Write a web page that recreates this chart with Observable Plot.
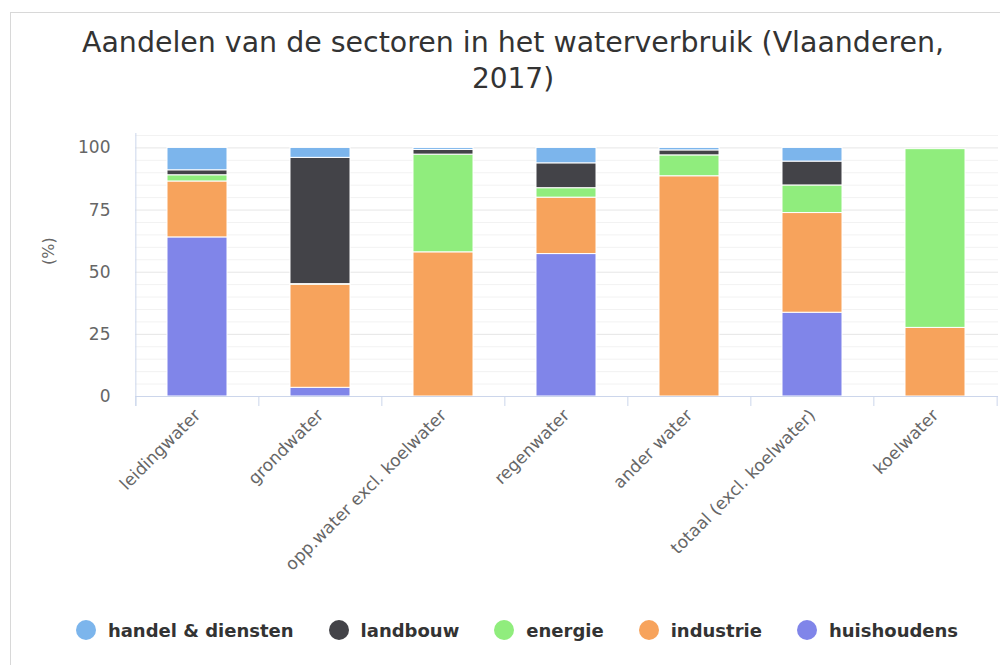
<!DOCTYPE html>
<html>
<head>
<meta charset="utf-8">
<script src="https://cdn.jsdelivr.net/npm/d3@7"></script>
<script src="https://cdn.jsdelivr.net/npm/@observablehq/plot@0.6"></script>
<style>
  html, body { margin: 0; padding: 0; background: #fff; }
  #root { position: relative; width: 1000px; height: 665px; overflow: hidden; background: #fff; }
  #frame { position: absolute; left: 10px; top: 12px; width: 1100px; height: 700px;
           border-left: 1px solid #d8d8d8; border-top: 1px solid #d8d8d8; }
  #title { position: absolute; left: 0; top: 0; }
  #chart { position: absolute; left: 0; top: 120px; }
  #legend { position: absolute; left: 10px; top: 618px; width: 1014px; height: 24px;
            display: flex; justify-content: center; align-items: center; gap: 35px;
            font-family: "DejaVu Sans", sans-serif; font-weight: bold; font-size: 18px; color: #333; }
  .item { display: flex; align-items: center; gap: 12px; white-space: nowrap; }
  .dot { width: 20px; height: 20px; border-radius: 50%; display: inline-block; }
</style>
</head>
<body>
<div id="root">
  <div id="frame"></div>
  <svg id="title" width="1000" height="110"></svg>
  <div id="chart"></div>
  <div id="legend"></div>
</div>
<script>
// ---- data ----
const titleLines = ["Aandelen van de sectoren in het waterverbruik (Vlaanderen,", "2017)"];
const yLabel = "(%)";
const categories = ["leidingwater", "grondwater", "opp.water excl. koelwater", "regenwater", "ander water", "totaal (excl. koelwater)", "koelwater"];
const sectors = ["handel & diensten", "landbouw", "energie", "industrie", "huishoudens"]; // legend order
const colors = ["#7cb5ec", "#434348", "#90ed7d", "#f7a35c", "#8085e9"];
const stackOrder = ["huishoudens", "industrie", "energie", "landbouw", "handel & diensten"]; // bottom to top

const huishoudens = [64, 3.5, 0, 57.3, 0, 33.7, 0];
const industrie   = [22.5, 41.5, 58, 22.7, 88.6, 40.1, 27.6];
const energie     = [2.5, 0.2, 39.3, 3.8, 8.4, 11.1, 71.9];
const landbouw    = [2, 50.8, 1.9, 10, 2, 9.6, 0];
const handel      = [9, 4, 0.8, 6.2, 1, 5.5, 0];

const yTicks = [0, 25, 50, 75, 100];
const yMinorTicks = [5, 10, 15, 20, 30, 35, 40, 45, 55, 60, 65, 70, 80, 85, 90, 95, 105];
const yDomain = [0, 105.8];

// ---- build table ----
const seriesBySector = {
  "huishoudens": huishoudens,
  "industrie": industrie,
  "energie": energie,
  "landbouw": landbouw,
  "handel & diensten": handel
};
const rows = [];
for (const s of stackOrder) {
  categories.forEach((c, i) => {
    const v = seriesBySector[s][i];
    if (v > 0) rows.push({category: c, sector: s, value: v});
  });
}

// ---- title ----
const tsvg = d3.select("#title");
tsvg.append("text").attr("x", 513).attr("y", 52).attr("text-anchor", "middle")
  .attr("font-family", "DejaVu Sans").attr("font-size", 28).attr("fill", "#333")
  .attr("textLength", 862).attr("lengthAdjust", "spacingAndGlyphs")
  .text(titleLines[0]);
tsvg.append("text").attr("x", 513).attr("y", 88).attr("text-anchor", "middle")
  .attr("font-family", "DejaVu Sans").attr("font-size", 28).attr("fill", "#333")
  .text(titleLines[1]);

// ---- chart ----
const width = 1000, marginLeft = 135, marginRight = 2;
const step = (width - marginLeft - marginRight) / categories.length;
const axisColor = "#ccd6eb";

const chart = Plot.plot({
  width, height: 476,
  marginLeft, marginRight, marginTop: 13, marginBottom: 200,
  style: {fontFamily: "DejaVu Sans", fontSize: "16px", color: "#666", background: "transparent"},
  x: {domain: categories, paddingInner: 0.51, paddingOuter: 0.255, label: null},
  y: {domain: yDomain, label: null},
  color: {domain: sectors, range: colors},
  marks: [
    Plot.ruleY(yMinorTicks, {stroke: "#f2f2f2"}),
    Plot.ruleY(yTicks.filter(d => d > 0), {stroke: "#e6e6e6"}),
    Plot.barY(rows, {x: "category", y: "value", fill: "sector", order: stackOrder, stroke: "white", strokeWidth: 1}),
    Plot.ruleY([0], {stroke: axisColor}),
    Plot.ruleX(categories, {x: d => d, dx: -step / 2, y1: 0, y2: 0, insetBottom: -10, stroke: axisColor}),
    Plot.ruleX(categories.slice(-1), {x: d => d, dx: step / 2, y1: 0, y2: 0, insetBottom: -10, stroke: axisColor}),
    Plot.ruleX(categories.slice(0, 1), {x: d => d, dx: -step / 2, insetBottom: -10, stroke: axisColor}),
    Plot.axisY(yTicks, {tickSize: 0, tickPadding: 25, fontSize: 17, fill: "#666", label: null}),
    Plot.axisX({tickSize: 0, tickRotate: -45, tickPadding: 16, fontSize: 17, fill: "#666", label: null}),
    Plot.text([yLabel], {frameAnchor: "left", dx: -87, rotate: -90, fill: "#666", fontSize: 16, text: d => d})
  ]
});
document.getElementById("chart").appendChild(chart);

// ---- legend ----
const legend = d3.select("#legend");
sectors.forEach((s, i) => {
  const it = legend.append("div").attr("class", "item");
  it.append("span").attr("class", "dot").style("background", colors[i]);
  it.append("span").text(s);
});
</script>
</body>
</html>
